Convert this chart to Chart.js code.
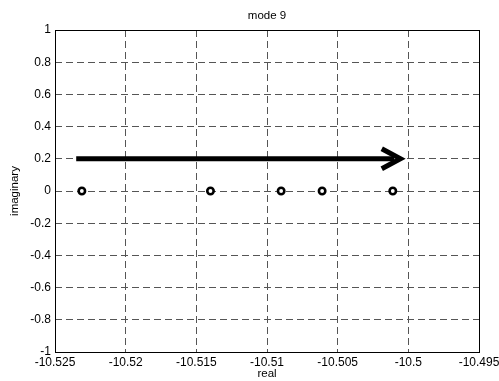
<!DOCTYPE html>
<html>
<head>
<meta charset="utf-8">
<script src="https://cdn.jsdelivr.net/npm/chart.js@4/dist/chart.umd.min.js"></script>
<style>
  body { margin: 0; background: #fff; }
  canvas { display: block; }
</style>
</head>
<body>
<canvas id="graph1" width="499" height="381"></canvas>
<script>
// eigenvalue locations (real part), all on the real axis
const poleReal = [-10.5231, -10.5140, -10.5090, -10.5061, -10.5011];
const poleImag = [0, 0, 0, 0, 0];

// arrow showing the direction the poles move
const arrowX = [-10.5235, -10.5010];
const arrowY = [0.2, 0.2];
const headX = [-10.50188, -10.50056, -10.50188];
const headY = [0.262, 0.2, 0.138];

// tick labels
const xTicks = [-10.525, -10.52, -10.515, -10.51, -10.505, -10.5, -10.495];
const yTicks = [-1, -0.8, -0.6, -0.4, -0.2, 0, 0.2, 0.4, 0.6, 0.8, 1];

const toPoints = (xs, ys) => xs.map((x, i) => ({x: x, y: ys[i]}));

// full box round the plot area
const boxPlugin = {
    id: 'box',
    beforeDatasetsDraw(chart) {
        const a = chart.chartArea;
        const ctx = chart.ctx;
        ctx.save();
        ctx.strokeStyle = '#000';
        ctx.lineWidth = 1;
        ctx.strokeRect(a.left + 0.5, a.top + 0.5, a.right - a.left, a.bottom - a.top);
        ctx.restore();
    }
};

const family = 'Liberation Sans, Arial, sans-serif';
const tickFont = {family: family, size: 12};
const labelFont = {family: family, size: 11.5};

const ctx = document.getElementById('graph1');
const myChart = new Chart(ctx, {
    type: 'scatter',
    data: {
        datasets: [
            {
                data: toPoints(arrowX, arrowY),
                showLine: true,
                borderColor: '#000',
                borderWidth: 5,
                borderCapStyle: 'butt',
                pointRadius: 0
            },
            {
                data: toPoints(headX, headY),
                showLine: true,
                borderColor: '#000',
                borderWidth: 5,
                borderCapStyle: 'butt',
                borderJoinStyle: 'miter',
                pointRadius: 0
            },
            {
                data: toPoints(poleReal, poleImag),
                showLine: false,
                pointRadius: 3.2,
                pointBorderWidth: 2.6,
                pointBackgroundColor: '#fff',
                pointBorderColor: '#000'
            }
        ]
    },
    options: {
        responsive: false,
        devicePixelRatio: 1,
        animation: false,
        layout: {
            padding: {top: 0, left: 0, right: 20, bottom: 0}
        },
        scales: {
            x: {
                type: 'linear',
                min: -10.525,
                max: -10.495,
                afterBuildTicks: axis => { axis.ticks = xTicks.map(v => ({value: v})); },
                afterFit: axis => {
                    axis.height = 29;
                    axis.paddingLeft = 0; axis.paddingRight = 0;
                },
                grid: {color: '#555', lineWidth: 1, drawTicks: false},
                border: {display: false, dash: [7, 4]},
                ticks: {
                    color: '#000',
                    font: tickFont,
                    padding: 3,
                    maxRotation: 0,
                    autoSkip: false,
                    callback: v => String(v)
                },
                title: {
                    display: true,
                    text: 'real',
                    color: '#000',
                    font: labelFont,
                    padding: {top: 0, bottom: 0}
                }
            },
            // top axis only carries the plot title, centred over the plot area
            top: {
                type: 'linear',
                position: 'top',
                min: -10.525,
                max: -10.495,
                afterFit: axis => {
                    axis.height = 30;
                    axis.paddingLeft = 0; axis.paddingRight = 0;
                },
                grid: {display: false, drawTicks: false},
                border: {display: false},
                ticks: {display: false},
                title: {
                    display: true,
                    text: 'mode 9',
                    color: '#000',
                    font: labelFont,
                    padding: {top: 9, bottom: 0}
                }
            },
            y: {
                type: 'linear',
                min: -1,
                max: 1,
                afterBuildTicks: axis => { axis.ticks = yTicks.map(v => ({value: v})); },
                afterFit: axis => {
                    axis.width = 55;
                    axis.paddingTop = 0; axis.paddingBottom = 0;
                },
                grid: {color: '#555', lineWidth: 1, drawTicks: false},
                border: {display: false, dash: [7, 4]},
                ticks: {
                    color: '#000',
                    font: tickFont,
                    padding: 4,
                    autoSkip: false,
                    callback: v => String(v)
                },
                title: {
                    display: true,
                    text: 'imaginary',
                    color: '#000',
                    font: labelFont,
                    padding: {top: 8, bottom: 0}
                }
            }
        },
        plugins: {
            legend: {display: false},
            tooltip: {enabled: false},
            title: {display: false}
        }
    },
    plugins: [boxPlugin]
});
</script>
</body>
</html>
